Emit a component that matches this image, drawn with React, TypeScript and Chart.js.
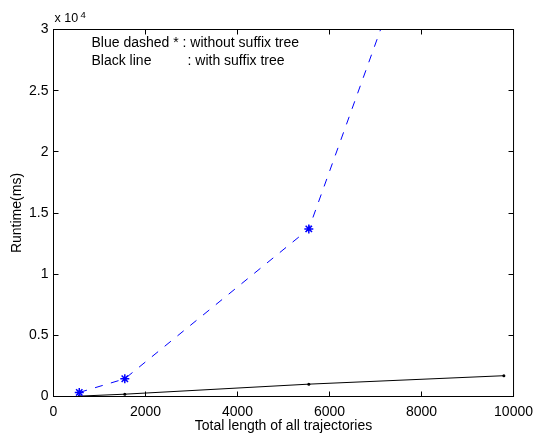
import React, { useEffect, useRef } from "react";
import { Chart, registerables } from "chart.js";

Chart.register(...registerables);

const lengths = [560, 1550, 5550, 9790];
const withoutSuffixTree = [330, 1450, 13700, 58000];
const withSuffixTree = [30, 190, 1010, 1700];
const xTicks = [0, 2000, 4000, 6000, 8000, 10000];
const yTicks = [0, 5000, 10000, 15000, 20000, 25000, 30000];
const noteLine1 = "Blue dashed * : without suffix tree";
const noteLine2a = "Black line";
const noteLine2b = ": with suffix tree";
const xTitle = "Total length of all trajectories";
const yTitle = "Runtime(ms)";

const FONT = '"Liberation Sans", Arial, Helvetica, sans-serif';

const boxPlugin = {
  id: "matlabBox",
  afterDraw(chart: any) {
    const { ctx, chartArea: a, scales } = chart;
    const xs = scales.x;
    const ys = scales.y;
    ctx.save();
    ctx.strokeStyle = "#000";
    ctx.lineWidth = 1;
    ctx.strokeRect(a.left, a.top, a.right - a.left, a.bottom - a.top);
    ctx.beginPath();
    const tl = 5;
    xTicks.forEach((v) => {
      const px = Math.round(xs.getPixelForValue(v) - 0.5) + 0.5;
      ctx.moveTo(px, a.bottom);
      ctx.lineTo(px, a.bottom - tl);
      ctx.moveTo(px, a.top);
      ctx.lineTo(px, a.top + tl);
    });
    yTicks.forEach((v) => {
      const py = Math.round(ys.getPixelForValue(v) - 0.5) + 0.5;
      ctx.moveTo(a.left, py);
      ctx.lineTo(a.left + tl, py);
      ctx.moveTo(a.right, py);
      ctx.lineTo(a.right - tl, py);
    });
    ctx.stroke();

    ctx.fillStyle = "#000";
    ctx.textBaseline = "middle";
    ctx.textAlign = "left";
    ctx.font = `14px ${FONT}`;
    ctx.fillText(noteLine1, a.left + 38, a.top + 14);
    ctx.fillText(noteLine2a, a.left + 38, a.top + 32);
    ctx.fillText(noteLine2b, a.left + 134, a.top + 32);

    ctx.font = `12.5px ${FONT}`;
    ctx.fillText("x 10", a.left + 1, a.top - 11);
    ctx.font = `9.5px ${FONT}`;
    ctx.fillText("4", a.left + 27, a.top - 14);
    ctx.restore();
  },
};

export default function App() {
  const ref = useRef<HTMLCanvasElement | null>(null);

  useEffect(() => {
    document.body.style.margin = "0";
    const canvas = ref.current;
    if (!canvas) return;
    const chart = new Chart(canvas, {
      type: "scatter",
      data: {
        datasets: [
          {
            label: "without suffix tree",
            data: lengths.map((x, i) => ({ x, y: withoutSuffixTree[i] })),
            showLine: true,
            borderColor: "#0000ff",
            backgroundColor: "#0000ff",
            borderWidth: 1,
            borderDash: [8, 8.5],
            pointStyle: "star",
            pointRadius: 4.5,
            pointBorderWidth: 1.5,
            pointBorderColor: "#0000ff",
          },
          {
            label: "with suffix tree",
            data: lengths.map((x, i) => ({ x, y: withSuffixTree[i] })),
            showLine: true,
            borderColor: "#000000",
            backgroundColor: "#000000",
            borderWidth: 1,
            pointStyle: "circle",
            pointRadius: 1.5,
            pointBorderWidth: 0,
          },
        ],
      },
      options: {
        responsive: false,
        maintainAspectRatio: false,
        animation: false,
        layout: { padding: { top: 29.5, right: 18.5, left: 0, bottom: 0 } },
        plugins: {
          legend: { display: false },
          tooltip: { enabled: false },
        },
        scales: {
          x: {
            type: "linear",
            min: 0,
            max: 10000,
            afterFit(scale: any) {
              scale.height = 38.5;
            },
            afterBuildTicks(scale: any) {
              scale.ticks = xTicks.map((v) => ({ value: v }));
            },
            grid: { display: false, drawTicks: false },
            border: { display: false },
            ticks: {
              padding: 7,
              color: "#000",
              font: { family: FONT, size: 14 },
              maxRotation: 0,
              autoSkip: false,
              callback: (v: any) => String(v),
            },
            title: {
              display: true,
              text: xTitle,
              color: "#000",
              font: { family: FONT, size: 14 },
              padding: { top: 0, bottom: 0.5 },
            },
          },
          y: {
            type: "linear",
            min: 0,
            max: 30000,
            afterFit(scale: any) {
              scale.width = 53.5;
            },
            afterBuildTicks(scale: any) {
              scale.ticks = yTicks.map((v) => ({ value: v }));
            },
            grid: { display: false, drawTicks: false },
            border: { display: false },
            ticks: {
              padding: 5,
              color: "#000",
              font: { family: FONT, size: 14 },
              autoSkip: false,
              callback: (v: any) => String(Number(v) / 10000),
            },
            title: {
              display: true,
              text: yTitle,
              color: "#000",
              font: { family: FONT, size: 14 },
              padding: { top: 8.3, bottom: 0 },
            },
          },
        },
      },
      plugins: [boxPlugin],
    });
    return () => chart.destroy();
  }, []);

  return (
    <div style={{ width: 540, height: 435, background: "#fff" }}>
      <canvas ref={ref} width={540} height={435} />
    </div>
  );
}
